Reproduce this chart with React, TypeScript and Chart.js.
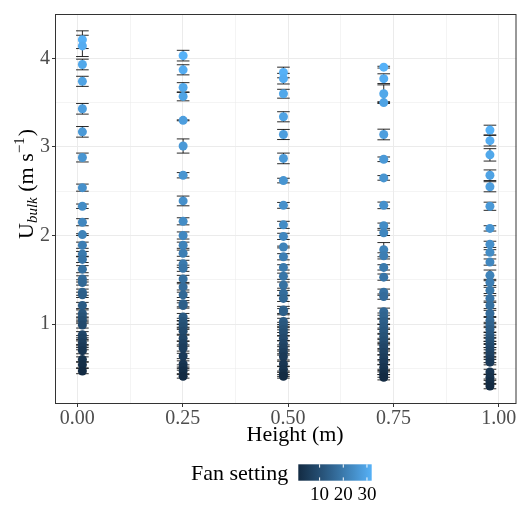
import React, { useEffect, useRef } from "react";
import { Chart, registerables } from "chart.js";

Chart.register(...registerables);

// ---------------- data ----------------
const HEIGHTS = [0.012, 0.251, 0.489, 0.727, 0.979];
const FAN = [32, 31, 30, 29, 28, 27, 26, 25, 24, 23, 22, 21, 20, 19, 18, 17, 16, 15, 14, 13, 12, 11, 10, 9, 8, 7, 6, 5, 4, 3, 2, 1];

const U_H1 = [4.21, 4.14, 3.93, 3.74, 3.43, 3.17, 2.88, 2.54, 2.33, 2.15, 2.01, 1.89, 1.79, 1.73, 1.62, 1.51, 1.47, 1.36, 1.33, 1.21, 1.12, 1.08, 1.04, 0.99, 0.88, 0.84, 0.79, 0.74, 0.70, 0.60, 0.54, 0.47];
const ERR_H1 = [0.10, 0.12, 0.06, 0.057, 0.06, 0.06, 0.05, 0.04, 0.025, 0.04, 0.01, 0.035, 0.03, 0.035, 0.04, 0.035, 0.03, 0.035, 0.03, 0.035, 0.04, 0.035, 0.03, 0.035, 0.035, 0.03, 0.035, 0.03, 0.035, 0.03, 0.035, 0.03];

const U_H2 = [4.03, 3.87, 3.67, 3.57, 3.30, 3.01, 2.68, 2.39, 2.16, 2.00, 1.89, 1.80, 1.68, 1.63, 1.51, 1.42, 1.33, 1.23, 1.21, 1.08, 1.03, 1.00, 0.97, 0.92, 0.84, 0.78, 0.73, 0.64, 0.55, 0.51, 0.47, 0.41];
const ERR_H2 = [0.06, 0.057, 0.055, 0.05, 0.005, 0.08, 0.03, 0.055, 0.04, 0.04, 0.035, 0.035, 0.04, 0.035, 0.04, 0.035, 0.03, 0.035, 0.03, 0.04, 0.035, 0.035, 0.03, 0.035, 0.035, 0.03, 0.035, 0.03, 0.035, 0.03, 0.03, 0.02];

const U_H3 = [3.84, 3.77, 3.60, 3.34, 3.14, 2.87, 2.62, 2.34, 2.12, 1.99, 1.87, 1.76, 1.64, 1.54, 1.44, 1.35, 1.29, 1.16, 1.14, 1.03, 0.99, 0.94, 0.90, 0.84, 0.78, 0.73, 0.68, 0.63, 0.55, 0.49, 0.44, 0.41];
const ERR_H3 = [0.06, 0.06, 0.05, 0.057, 0.057, 0.06, 0.026, 0.033, 0.04, 0.035, 0.01, 0.035, 0.03, 0.035, 0.035, 0.03, 0.035, 0.04, 0.035, 0.035, 0.03, 0.035, 0.035, 0.03, 0.035, 0.035, 0.03, 0.035, 0.03, 0.035, 0.03, 0.02];

const U_H4 = [3.90, 3.77, 3.60, 3.50, 3.14, 2.86, 2.65, 2.34, 2.11, 2.03, 1.84, 1.77, 1.64, 1.53, 1.36, 1.31, 1.14, 1.09, 1.03, 0.97, 0.92, 0.86, 0.81, 0.76, 0.73, 0.68, 0.62, 0.57, 0.51, 0.46, 0.43, 0.40];
const ERR_H4 = [0.01, 0.055, 0.10, 0.01, 0.06, 0.026, 0.026, 0.037, 0.03, 0.03, 0.08, 0.035, 0.03, 0.035, 0.035, 0.03, 0.04, 0.035, 0.035, 0.03, 0.035, 0.035, 0.03, 0.035, 0.035, 0.03, 0.035, 0.03, 0.035, 0.03, 0.03, 0.03];

const U_H5 = [3.19, 3.07, 2.91, 2.68, 2.55, 2.33, 2.08, 1.90, 1.81, 1.70, 1.55, 1.47, 1.38, 1.29, 1.21, 1.12, 1.04, 0.99, 0.94, 0.88, 0.84, 0.81, 0.77, 0.74, 0.70, 0.65, 0.60, 0.57, 0.46, 0.40, 0.35, 0.30];
const ERR_H5 = [0.055, 0.06, 0.07, 0.06, 0.057, 0.046, 0.03, 0.035, 0.03, 0.035, 0.06, 0.035, 0.035, 0.03, 0.035, 0.035, 0.035, 0.03, 0.035, 0.03, 0.035, 0.03, 0.035, 0.03, 0.035, 0.03, 0.035, 0.03, 0.03, 0.035, 0.03, 0.03];

const U_ALL = [U_H1, U_H2, U_H3, U_H4, U_H5];
const ERR_ALL = [ERR_H1, ERR_H2, ERR_H3, ERR_H4, ERR_H5];

const X_MAJOR = [0, 0.25, 0.5, 0.75, 1];
const X_MINOR = [0.125, 0.375, 0.625, 0.875];
const Y_MAJOR = [1, 2, 3, 4];
const Y_MINOR = [0.5, 1.5, 2.5, 3.5];
const FAN_TICKS = [10, 20, 30];

// ---------------- colour scale (ggplot default, Lab interpolation) ----------------
const LOW = [0x13, 0x2b, 0x43];
const HIGH = [0x56, 0xb1, 0xf7];

function toLin(c: number) {
  c /= 255;
  return c <= 0.04045 ? c / 12.92 : Math.pow((c + 0.055) / 1.055, 2.4);
}
function fromLin(c: number) {
  const v = c <= 0.0031308 ? 12.92 * c : 1.055 * Math.pow(c, 1 / 2.4) - 0.055;
  return Math.round(Math.max(0, Math.min(1, v)) * 255);
}
const XN = 0.95047, YN = 1, ZN = 1.08883;
function fLab(t: number) {
  return t > 0.008856 ? Math.cbrt(t) : 7.787 * t + 16 / 116;
}
function fInv(t: number) {
  const t3 = t * t * t;
  return t3 > 0.008856 ? t3 : (t - 16 / 116) / 7.787;
}
function rgbToLab(rgb: number[]) {
  const R = toLin(rgb[0]), G = toLin(rgb[1]), B = toLin(rgb[2]);
  const X = 0.4124 * R + 0.3576 * G + 0.1805 * B;
  const Y = 0.2126 * R + 0.7152 * G + 0.0722 * B;
  const Z = 0.0193 * R + 0.1192 * G + 0.9505 * B;
  const fx = fLab(X / XN), fy = fLab(Y / YN), fz = fLab(Z / ZN);
  return [116 * fy - 16, 500 * (fx - fy), 200 * (fy - fz)];
}
function labToRgb(lab: number[]) {
  const fy = (lab[0] + 16) / 116;
  const fx = fy + lab[1] / 500;
  const fz = fy - lab[2] / 200;
  const X = fInv(fx) * XN, Y = fInv(fy) * YN, Z = fInv(fz) * ZN;
  const R = 3.2406 * X - 1.5372 * Y - 0.4986 * Z;
  const G = -0.9689 * X + 1.8758 * Y + 0.0415 * Z;
  const B = 0.0557 * X - 0.204 * Y + 1.057 * Z;
  return [fromLin(R), fromLin(G), fromLin(B)];
}
const LAB_LOW = rgbToLab(LOW);
const LAB_HIGH = rgbToLab(HIGH);
const FAN_MIN = Math.min(...FAN);
const FAN_MAX = Math.max(...FAN);
function colorAt(t: number) {
  const lab = [0, 1, 2].map((k) => LAB_LOW[k] + (LAB_HIGH[k] - LAB_LOW[k]) * t);
  const c = labToRgb(lab);
  return `rgb(${c[0]},${c[1]},${c[2]})`;
}
function fanColor(f: number) {
  return colorAt((f - FAN_MIN) / (FAN_MAX - FAN_MIN));
}

// ---------------- styling constants ----------------
const FONT = '"Liberation Serif", "Times New Roman", serif';
const CAP_HALF = 0.015;
const isIn = (arr: number[], v: number) => arr.some((t) => Math.abs(t - v) < 1e-9);

const errorBarPlugin = {
  id: "errorBars",
  beforeDatasetsDraw(chart: any) {
    const { ctx, chartArea, scales } = chart;
    const xs = scales.x, ys = scales.y;
    ctx.save();
    ctx.beginPath();
    ctx.rect(chartArea.left, chartArea.top, chartArea.right - chartArea.left, chartArea.bottom - chartArea.top);
    ctx.clip();
    ctx.strokeStyle = "#111111";
    ctx.lineWidth = 0.9;
    HEIGHTS.forEach((h, hi) => {
      const px = xs.getPixelForValue(h);
      const cl = xs.getPixelForValue(h - CAP_HALF);
      const cr = xs.getPixelForValue(h + CAP_HALF);
      U_ALL[hi].forEach((u, i) => {
        const e = ERR_ALL[hi][i];
        const y1 = ys.getPixelForValue(u - e);
        const y2 = ys.getPixelForValue(u + e);
        ctx.beginPath();
        ctx.moveTo(px, y1);
        ctx.lineTo(px, y2);
        ctx.moveTo(cl, y1);
        ctx.lineTo(cr, y1);
        ctx.moveTo(cl, y2);
        ctx.lineTo(cr, y2);
        ctx.stroke();
      });
    });
    ctx.restore();
  },
};

const decorPlugin = {
  id: "decor",
  afterDraw(chart: any) {
    const { ctx, chartArea } = chart;
    ctx.save();
    // panel border
    ctx.strokeStyle = "#333333";
    ctx.lineWidth = 1;
    ctx.strokeRect(chartArea.left + 0.5, chartArea.top + 0.5, chartArea.right - chartArea.left - 1, chartArea.bottom - chartArea.top - 1);

    ctx.fillStyle = "#000000";
    ctx.textBaseline = "alphabetic";
    ctx.textAlign = "left";

    // x title
    ctx.font = `22px ${FONT}`;
    ctx.fillText("Height (m)", 246.5, 441);

    // y title (rotated, with subscript and superscript)
    ctx.save();
    ctx.translate(33, 239);
    ctx.rotate(-Math.PI / 2);
    let x = 0;
    ctx.font = `22px ${FONT}`;
    ctx.fillText("U", x, 0);
    x += ctx.measureText("U").width;
    ctx.font = `italic 15px ${FONT}`;
    ctx.fillText("bulk", x, 4);
    x += ctx.measureText("bulk").width;
    ctx.font = `22px ${FONT}`;
    const mid = " (m s";
    ctx.fillText(mid, x, 0);
    x += ctx.measureText(mid).width;
    ctx.font = `15px ${FONT}`;
    ctx.fillText("\u22121", x, -9);
    x += ctx.measureText("\u22121").width;
    ctx.font = `22px ${FONT}`;
    ctx.fillText(")", x + 1, 0);
    ctx.restore();

    // legend
    ctx.font = `22px ${FONT}`;
    ctx.fillText("Fan setting", 191, 480);
    const bx0 = 298.3, bx1 = 371.7, by0 = 464.3, by1 = 480.7;
    const grad = ctx.createLinearGradient(bx0, 0, bx1, 0);
    for (let k = 0; k <= 20; k++) grad.addColorStop(k / 20, colorAt(k / 20));
    ctx.fillStyle = grad;
    ctx.fillRect(bx0, by0, bx1 - bx0, by1 - by0);
    ctx.strokeStyle = "#ffffff";
    ctx.lineWidth = 1;
    ctx.font = `19px ${FONT}`;
    ctx.textAlign = "center";
    FAN_TICKS.forEach((v) => {
      const tx = bx0 + ((v - FAN_MIN) / (FAN_MAX - FAN_MIN)) * (bx1 - bx0);
      ctx.beginPath();
      ctx.moveTo(tx, by0);
      ctx.lineTo(tx, by0 + 3.3);
      ctx.moveTo(tx, by1 - 3.3);
      ctx.lineTo(tx, by1);
      ctx.stroke();
      ctx.fillStyle = "#000000";
      ctx.fillText(String(v), tx, 500);
    });
    ctx.restore();
  },
};

export default function App() {
  const ref = useRef<HTMLCanvasElement | null>(null);

  useEffect(() => {
    document.body.style.margin = "0";
    const canvas = ref.current;
    if (!canvas) return;
    const datasets = HEIGHTS.map((h, hi) => ({
      label: `h${hi}`,
      data: U_ALL[hi].map((u) => ({ x: h, y: u })),
      backgroundColor: FAN.map((f) => fanColor(f)),
      borderWidth: 0,
      pointRadius: 4.5,
      pointHoverRadius: 4.5,
      showLine: false,
    }));

    const chart = new Chart(canvas, {
      type: "scatter",
      data: { datasets },
      options: {
        animation: false,
        responsive: false,
        maintainAspectRatio: false,
        devicePixelRatio: 1,
        layout: { padding: { top: 7, right: 1, left: 0, bottom: 0 } },
        plugins: { legend: { display: false }, tooltip: { enabled: false } },
        scales: {
          x: {
            type: "linear",
            min: -0.053,
            max: 1.042,
            afterBuildTicks: (scale: any) => {
              scale.ticks = [...X_MAJOR, ...X_MINOR].sort((a, b) => a - b).map((v) => ({ value: v }));
            },
            afterFit: (scale: any) => {
              scale.height = 102;
            },
            border: { display: false },
            grid: {
              color: "#EBEBEB",
              lineWidth: (c: any) => (isIn(X_MAJOR, c.tick?.value) ? 1 : 0.55),
              tickColor: (c: any) => (isIn(X_MAJOR, c.tick?.value) ? "#333333" : "rgba(0,0,0,0)"),
              tickLength: 3,
              tickWidth: 1,
            },
            ticks: {
              autoSkip: false,
              maxRotation: 0,
              padding: 0,
              color: "#4D4D4D",
              font: { family: FONT, size: 20 },
              callback: (v: any) => (isIn(X_MAJOR, Number(v)) ? Number(v).toFixed(2) : ""),
            },
          },
          y: {
            type: "linear",
            min: 0.098,
            max: 4.5,
            afterBuildTicks: (scale: any) => {
              scale.ticks = [...Y_MAJOR, ...Y_MINOR].sort((a, b) => a - b).map((v) => ({ value: v }));
            },
            afterFit: (scale: any) => {
              scale.width = 55;
            },
            border: { display: false },
            grid: {
              color: "#EBEBEB",
              lineWidth: (c: any) => (isIn(Y_MAJOR, c.tick?.value) ? 1 : 0.55),
              tickColor: (c: any) => (isIn(Y_MAJOR, c.tick?.value) ? "#333333" : "rgba(0,0,0,0)"),
              tickLength: 3,
              tickWidth: 1,
            },
            ticks: {
              autoSkip: false,
              padding: 2,
              color: "#4D4D4D",
              font: { family: FONT, size: 20 },
              callback: (v: any) => (isIn(Y_MAJOR, Number(v)) ? String(Number(v)) : ""),
            },
          },
        },
      },
      plugins: [errorBarPlugin, decorPlugin],
    });
    return () => chart.destroy();
  }, []);

  return (
    <div style={{ width: 521, height: 506, position: "relative", background: "#ffffff" }}>
      <canvas ref={ref} width={521} height={506} style={{ width: 521, height: 506, display: "block" }} />
    </div>
  );
}
